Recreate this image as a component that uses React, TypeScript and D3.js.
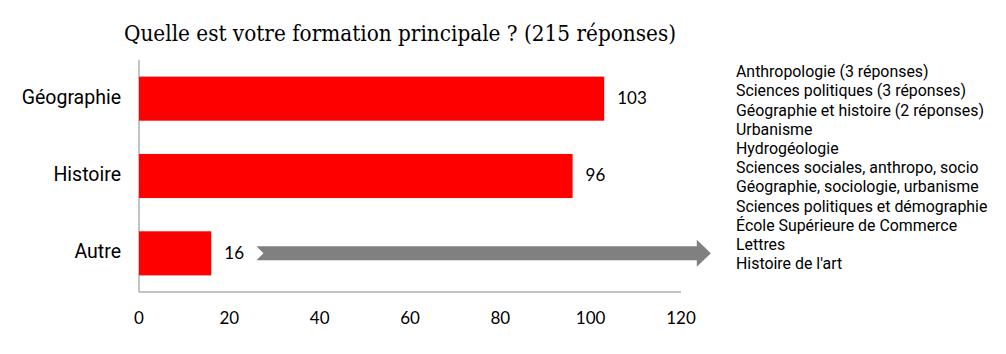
import React, { useEffect } from "react";
import * as d3 from "d3";

// data
const categories = ["Géographie", "Histoire", "Autre"];
const counts = [103, 96, 16];
const xTicks = [0, 20, 40, 60, 80, 100, 120];
const otherAnswers = [
  "Anthropologie (3 réponses)",
  "Sciences politiques (3 réponses)",
  "Géographie et histoire (2 réponses)",
  "Urbanisme",
  "Hydrogéologie",
  "Sciences sociales, anthropo, socio",
  "Géographie, sociologie, urbanisme",
  "Sciences politiques et démographie",
  "École Supérieure de Commerce",
  "Lettres",
  "Histoire de l'art",
];
const title = "Quelle est votre formation principale ? (215 réponses)";

const App = () => {
  useEffect(() => {
    document.body.style.margin = "0";
  }, []);

  const width = 1006;
  const height = 354;
  const margin = { top: 60, right: 325, bottom: 62, left: 139 };

  const x = d3
    .scaleLinear()
    .domain([0, 120])
    .range([margin.left, width - margin.right]);

  const y = d3
    .scaleBand()
    .domain(categories)
    .range([margin.top, height - margin.bottom])
    .paddingInner(0.43)
    .paddingOuter(0.215);

  const numFont = "Lato, 'Open Sans', sans-serif";
  const labelFont = "Roboto, sans-serif";

  // arrow pointing from the "Autre" bar to the list of other answers
  const ay = y("Autre")! + y.bandwidth() / 2;
  const x0 = x(26);
  const x1 = x(123.5);
  const tip = x(126.6);
  const shaft = 7;
  const head = 13.5;
  const arrow = d3.path();
  arrow.moveTo(x0, ay - shaft);
  arrow.lineTo(x1, ay - shaft);
  arrow.lineTo(x1, ay - head);
  arrow.lineTo(tip, ay);
  arrow.lineTo(x1, ay + head);
  arrow.lineTo(x1, ay + shaft);
  arrow.lineTo(x0, ay + shaft);
  arrow.lineTo(x0 + 7, ay);
  arrow.closePath();

  return (
    <svg width={width} height={height} style={{ display: "block", background: "#fff" }}>
      <text
        x={124}
        y={35}
        dominantBaseline="middle"
        fontFamily="'DejaVu Serif', serif"
        fontSize={22.5}
        textLength={552}
        lengthAdjust="spacingAndGlyphs"
        fill="#000"
      >
        {title}
      </text>

      {/* axes */}
      <line x1={x(0)} x2={x(0)} y1={margin.top} y2={height - margin.bottom} stroke="#888" strokeWidth={1} />
      <line x1={x(0)} x2={x(120)} y1={height - margin.bottom} y2={height - margin.bottom} stroke="#888" strokeWidth={1} />

      {xTicks.map((t) => (
        <text
          key={t}
          x={x(t)}
          y={320}
          textAnchor="middle"
          dominantBaseline="middle"
          fontFamily={numFont}
          fontSize={17}
          fill="#000"
        >
          {t}
        </text>
      ))}

      {categories.map((c, i) => (
        <g key={c}>
          <rect x={x(0)} y={y(c)} width={x(counts[i]) - x(0)} height={y.bandwidth()} fill="#ff0000" />
          <text
            x={121}
            y={y(c)! + y.bandwidth() / 2}
            textAnchor="end"
            dominantBaseline="middle"
            fontFamily={labelFont}
            fontSize={19.5}
            fill="#000"
          >
            {c}
          </text>
          <text
            x={x(counts[i]) + 13}
            y={y(c)! + y.bandwidth() / 2 + 1}
            dominantBaseline="middle"
            fontFamily={numFont}
            fontSize={17}
            fill="#000"
          >
            {counts[i]}
          </text>
        </g>
      ))}

      <path d={arrow.toString()} fill="#808080" />

      {otherAnswers.map((s, i) => (
        <text
          key={s}
          x={736}
          y={73 + i * 19.2}
          dominantBaseline="middle"
          fontFamily={labelFont}
          fontSize={15.9}
          fill="#000"
        >
          {s}
        </text>
      ))}
    </svg>
  );
};

export default App;
